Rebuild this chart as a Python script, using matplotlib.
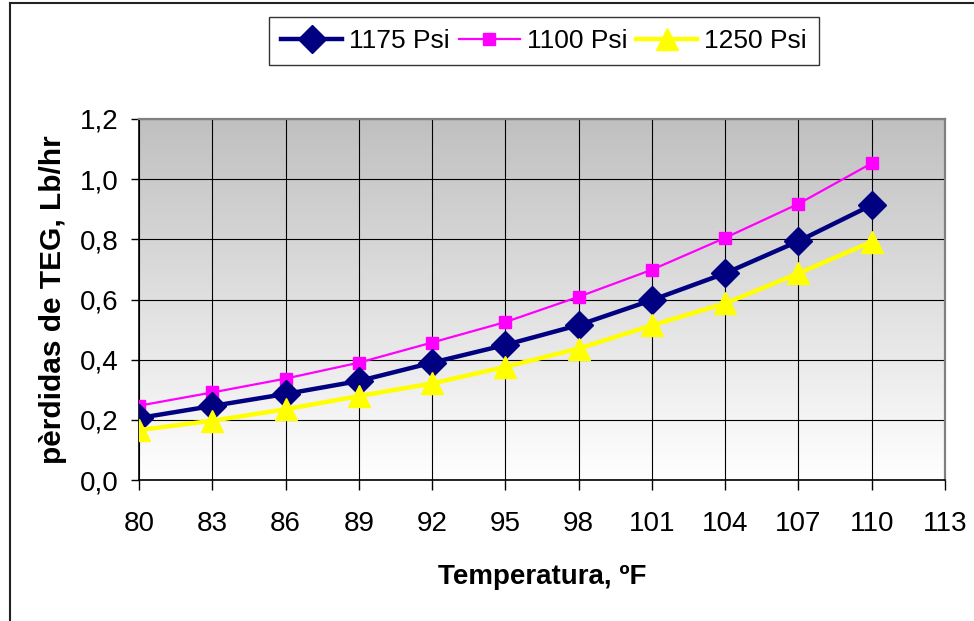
import numpy as np
import matplotlib
matplotlib.use("Agg")
import matplotlib.pyplot as plt
from matplotlib.lines import Line2D

# Temperature (ºF) and TEG losses (Lb/hr) for three operating pressures
temperatura = [80, 83, 86, 89, 92, 95, 98, 101, 104, 107, 110]
psi_1175 = [0.206, 0.246, 0.286, 0.329, 0.390, 0.449, 0.515, 0.598, 0.687, 0.794, 0.914]
psi_1100 = [0.247, 0.291, 0.337, 0.390, 0.457, 0.525, 0.609, 0.699, 0.805, 0.918, 1.053]
psi_1250 = [0.166, 0.197, 0.235, 0.279, 0.321, 0.376, 0.437, 0.514, 0.587, 0.687, 0.792]

x_ticks = [80, 83, 86, 89, 92, 95, 98, 101, 104, 107, 110, 113]
y_ticks = [0.0, 0.2, 0.4, 0.6, 0.8, 1.0, 1.2]
y_labels = ["0,0", "0,2", "0,4", "0,6", "0,8", "1,0", "1,2"]

narrow = ["Liberation Sans Narrow", "Liberation Sans", "DejaVu Sans"]
regular = ["Liberation Sans", "DejaVu Sans"]

fig = plt.figure(figsize=(9.74, 6.21), dpi=100)
ax = fig.add_axes([139 / 974, 1 - 480 / 621, 806 / 974, 361 / 621])

# vertical grey-to-white gradient in the plot area
grad = np.linspace(0, 1, 256).reshape(-1, 1)
cmap = matplotlib.colors.LinearSegmentedColormap.from_list("bg", ["#ffffff", "#c0c0c0"])
ax.imshow(grad, extent=[0, 1, 0, 1], transform=ax.transAxes, origin="lower",
          aspect="auto", cmap=cmap, zorder=0)

ax.plot(temperatura, psi_1175, color="#000080", lw=3.2, marker="D", ms=14,
        label="1175 Psi", zorder=4)
ax.plot(temperatura, psi_1100, color="#ff00ff", lw=1.6, marker="s", ms=8.5,
        label="1100 Psi", zorder=3)
ax.plot(temperatura, psi_1250, color="#ffff00", lw=3.2, marker="^", ms=16,
        label="1250 Psi", zorder=5)

ax.set_xlim(80, 113)
ax.set_ylim(0, 1.2)
ax.set_xticks(x_ticks)
ax.set_xticklabels([str(t) for t in x_ticks], family=narrow, fontsize=20)
ax.set_yticks(y_ticks)
ax.set_yticklabels(y_labels, family=narrow, fontsize=20)
ax.tick_params(axis="x", direction="out", length=7, width=1, color="black", pad=15)
ax.tick_params(axis="y", direction="out", length=6, width=1, color="black", pad=9)

ax.grid(True, color="black", lw=0.8, zorder=1)
ax.set_axisbelow(True)
for side in ("top", "right"):
    ax.spines[side].set_color("#808080")
    ax.spines[side].set_linewidth(1.6)
for side in ("left", "bottom"):
    ax.spines[side].set_color("black")
    ax.spines[side].set_linewidth(1.2)

ax.set_xlabel("Temperatura, ºF", family=regular, fontsize=20, fontweight="bold")
ax.xaxis.set_label_coords(0.5006, -0.232)
ax.set_ylabel("pèrdidas de TEG, Lb/hr", family=regular, fontsize=21.5, fontweight="bold")
ax.yaxis.set_label_coords(-0.089, 0.5)

leg = fig.legend(loc="center", bbox_to_anchor=(544 / 974, 1 - 41 / 621), ncol=3,
                 prop={"family": regular, "size": 19}, frameon=True, fancybox=False,
                 edgecolor="black", handlelength=2.3, handletextpad=0.27,
                 columnspacing=0.35, borderpad=0.45)
leg.get_frame().set_linewidth(1.0)

# outer chart border
fig.add_artist(Line2D([9.5 / 974, 9.5 / 974], [0, 1 - 2.5 / 621], color="#222222",
                      lw=1.5, transform=fig.transFigure))
fig.add_artist(Line2D([9.5 / 974, 1], [1 - 2.5 / 621, 1 - 2.5 / 621], color="#222222",
                      lw=1.5, transform=fig.transFigure))

fig.savefig("out.png", dpi=100)
